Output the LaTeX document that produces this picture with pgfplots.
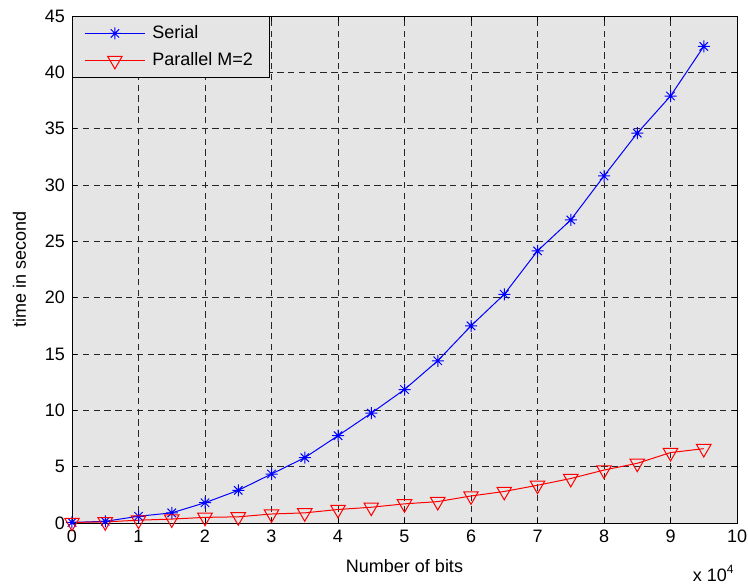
\documentclass[border=0pt]{standalone}
\usepackage{fontspec}
\setmainfont{Liberation Sans}
\usepackage{pgfplots}
\pgfplotsset{compat=1.18}
\definecolor{mgray}{RGB}{229,229,229}
\pgfdeclareplotmark{mstar}{%
  \pgfpathmoveto{\pgfqpoint{-\pgfplotmarksize}{0pt}}%
  \pgfpathlineto{\pgfqpoint{\pgfplotmarksize}{0pt}}%
  \pgfpathmoveto{\pgfqpoint{0pt}{-\pgfplotmarksize}}%
  \pgfpathlineto{\pgfqpoint{0pt}{\pgfplotmarksize}}%
  \pgfpathmoveto{\pgfqpoint{-0.7\pgfplotmarksize}{-0.7\pgfplotmarksize}}%
  \pgfpathlineto{\pgfqpoint{0.7\pgfplotmarksize}{0.7\pgfplotmarksize}}%
  \pgfpathmoveto{\pgfqpoint{-0.7\pgfplotmarksize}{0.7\pgfplotmarksize}}%
  \pgfpathlineto{\pgfqpoint{0.7\pgfplotmarksize}{-0.7\pgfplotmarksize}}%
  \pgfusepathqstroke}
\newcommand{\ff}{\fontsize{9}{11}\selectfont}
\begin{document}
\begin{tikzpicture}
\path[use as bounding box] (0,0) rectangle (374pt,293pt);
\begin{axis}[
  name=ax,
  at={(36pt,31.5pt)}, anchor=south west,
  scale only axis, width=332.5pt, height=253.5pt,
  xmin=0, xmax=100000, ymin=0, ymax=45,
  xtick={0,10000,...,100000},
  xticklabels={0,1,2,3,4,5,6,7,8,9,10},
  scaled x ticks=false,
  ytick={0,5,...,45},
  tick align=inside, major tick length=2.5pt,
  tick style={black, line width=0.4pt},
  axis background/.style={fill=mgray},
  grid=major,
  major grid style={black!85, line width=0.4pt, dash pattern=on 3.2pt off 2.2pt},
  /pgf/number format/assume math mode=true,
  tick label style={font=\ff},
  every axis x label/.style={at={(axis description cs:0.5,0)}, anchor=north, yshift=-14.5pt, font=\ff},
  every axis y label/.style={at={(axis description cs:0,0.5)}, xshift=-19.5pt, rotate=90, anchor=south, font=\ff},
  xlabel={Number of bits},
  ylabel={time in second},
  legend style={at={(0,1)}, anchor=north west, draw=black, fill=mgray, font=\ff,
    row sep=1.5pt, inner xsep=6pt, inner ysep=2.5pt, cells={anchor=west}},
  legend image code/.code={\draw[mark repeat=2,mark phase=2,#1] plot coordinates {(0pt,0pt) (15pt,0pt) (30pt,0pt)}; \path (31.5pt,0pt);},
]
\addplot[blue, line width=0.5pt, mark=mstar, mark size=3pt, mark options={line width=0.5pt}] coordinates {
(0,0.05) (5000,0.15) (10000,0.6) (15000,0.9) (20000,1.8) (25000,2.9) (30000,4.35)
(35000,5.8) (40000,7.75) (45000,9.75) (50000,11.85) (55000,14.4) (60000,17.5)
(65000,20.3) (70000,24.15) (75000,26.9) (80000,30.8) (85000,34.6) (90000,37.9) (95000,42.3)
};
\addlegendentry{Serial}
\addplot[red, line width=0.5pt, mark=triangle, mark size=4.2pt, mark options={rotate=180, line width=0.5pt, fill=none}] coordinates {
(0,0.05) (5000,0.1) (10000,0.25) (15000,0.35) (20000,0.5) (25000,0.55) (30000,0.8)
(35000,0.9) (40000,1.2) (45000,1.4) (50000,1.7) (55000,1.9) (60000,2.4)
(65000,2.8) (70000,3.35) (75000,3.95) (80000,4.7) (85000,5.3) (90000,6.25) (95000,6.6)
};
\addlegendentry{Parallel M=2}
\end{axis}
\node[anchor=north east, inner sep=0pt, font=\ff, xshift=-1pt, yshift=-21pt] at (ax.south east) {x 10\textsuperscript{4}};
\end{tikzpicture}
\end{document}
